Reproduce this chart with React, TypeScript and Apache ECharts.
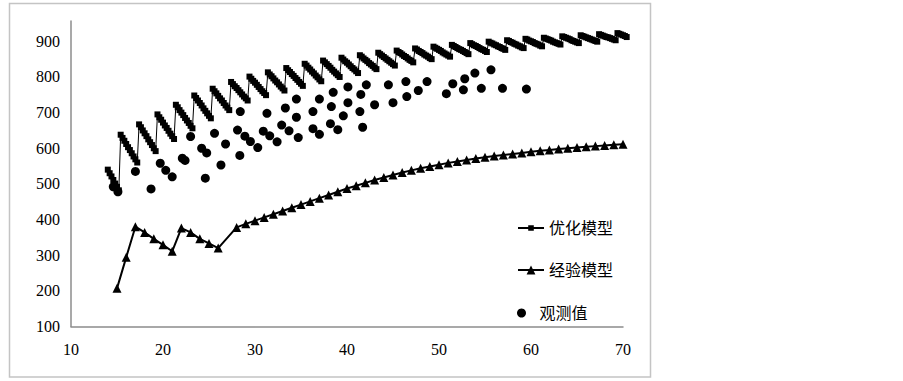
import React, { useEffect, useRef } from "react";
import * as echarts from "echarts";

// ---- data ----
const xTicks = [10, 20, 30, 40, 50, 60, 70];
const yTicks = [100, 200, 300, 400, 500, 600, 700, 800, 900];

const seriesNames = ["优化模型", "经验模型", "观测值"];

// optimized model: sawtooth, each tooth starts at given x, markers every 0.2
const optimizedToothStartX = [
  14.0, 15.4, 17.4, 19.4, 21.4, 23.4, 25.4, 27.4, 29.4, 31.4, 33.4, 35.4, 37.4, 39.4, 41.4,
  43.4, 45.4, 47.4, 49.4, 51.4, 53.4, 55.4, 57.4, 59.4, 61.4, 63.4, 65.4, 67.4, 69.4,
];
const optimizedStepX = 0.2;
const optimizedToothValues = [
  [540, 530, 521, 511, 501, 492, 482],
  [638, 629, 621, 612, 603, 595, 586, 577, 569, 560],
  [667, 659, 650, 642, 634, 625, 617, 609, 600, 592],
  [695, 687, 680, 672, 664, 657, 649, 641, 634, 626],
  [722, 715, 707, 700, 693, 685, 678, 671, 663, 656],
  [748, 741, 734, 727, 720, 712, 705, 698, 691, 684],
  [767, 760, 754, 747, 740, 734, 727, 720, 714, 707],
  [786, 780, 774, 769, 763, 757, 751, 745, 740, 734],
  [801, 795, 789, 784, 778, 772, 766, 760, 755, 749],
  [813, 807, 802, 796, 790, 785, 779, 773, 768, 762],
  [825, 819, 814, 808, 803, 797, 792, 786, 781, 775],
  [837, 832, 826, 821, 815, 810, 804, 799, 793, 788],
  [846, 841, 836, 831, 826, 820, 815, 810, 805, 800],
  [854, 849, 844, 840, 835, 830, 825, 821, 816, 811],
  [861, 857, 852, 848, 844, 839, 835, 831, 826, 822],
  [868, 864, 860, 856, 852, 848, 844, 840, 836, 832],
  [874, 870, 867, 863, 859, 856, 852, 848, 845, 841],
  [880, 877, 873, 870, 867, 863, 860, 857, 853, 850],
  [885, 882, 879, 876, 873, 869, 866, 863, 860, 857],
  [890, 887, 884, 881, 878, 876, 873, 870, 867, 864],
  [895, 892, 889, 887, 884, 881, 878, 876, 873, 870],
  [899, 896, 894, 891, 889, 886, 884, 881, 879, 876],
  [903, 901, 898, 896, 893, 891, 888, 886, 883, 881],
  [907, 905, 902, 900, 898, 895, 893, 891, 888, 886],
  [910, 908, 906, 904, 902, 899, 897, 895, 893, 891],
  [914, 912, 910, 908, 906, 903, 901, 899, 897, 895],
  [917, 915, 913, 911, 909, 907, 905, 903, 901, 899],
  [920, 918, 916, 914, 912, 911, 909, 907, 905, 903],
  [923, 921, 919, 917, 915, 912],
];

// empirical model
const empiricalX = [
  15, 16, 17, 18, 19, 20, 21, 22, 23, 24, 25, 26,
  28, 29, 30, 31, 32, 33, 34, 35, 36, 37, 38, 39, 40, 41, 42, 43, 44, 45, 46, 47, 48, 49,
  50, 51, 52, 53, 54, 55, 56, 57, 58, 59, 60, 61, 62, 63, 64, 65, 66, 67, 68, 69, 70,
];
const empiricalY = [
  207, 294, 380, 364, 346, 329, 311, 376, 364, 346, 333, 320,
  378, 388, 397, 406, 415, 424, 433, 442, 451, 460, 469, 478, 487, 495, 503, 511, 518, 525,
  532, 538, 544, 549, 554, 559, 563, 567, 571, 575, 578, 581, 584, 587, 590, 593, 595, 598,
  600, 602, 604, 606, 608, 610, 611,
];

// observed values
const observedX = [
  14.6, 15.1, 17.0, 18.7, 19.7, 20.3, 21.0, 22.1, 22.4, 23.0,
  24.2, 24.75, 24.6, 25.6, 26.3, 26.8, 28.1, 28.35, 28.4, 28.9,
  29.5, 30.3, 30.9, 31.3, 31.6, 32.4, 32.9, 33.3, 33.7, 34.5,
  34.5, 34.7, 36.3, 36.3, 37.0, 37.0, 38.2, 38.3, 38.5, 39.0,
  39.6, 40.1, 40.1, 41.4, 41.5, 41.7, 42.1, 43.0, 44.5, 45.0,
  46.4, 46.5, 47.75, 48.7, 50.8, 51.5, 52.65, 52.8, 53.9, 54.6,
  55.65, 56.9, 59.5,
];
const observedY = [
  492, 478, 535, 486, 558, 538, 520, 572, 566, 633,
  600, 587, 516, 642, 553, 612, 651, 580, 703, 634,
  619, 602, 648, 698, 635, 618, 665, 713, 649, 738,
  687, 630, 703, 655, 639, 738, 669, 717, 757, 652,
  691, 772, 728, 703, 751, 659, 778, 722, 778, 728,
  787, 745, 762, 787, 753, 781, 764, 795, 811, 768,
  820, 768, 766,
];

const serifFont = "Liberation Serif, DejaVu Serif, serif";
const cjkFont = "Liberation Serif, Noto Sans CJK SC, serif";

export default function App() {
  const ref = useRef<HTMLDivElement>(null);

  useEffect(() => {
    if (!ref.current) return;
    const chart = echarts.init(ref.current, null, { renderer: "svg" });

    const optimizedData: number[][] = [];
    optimizedToothValues.forEach((tooth, i) => {
      tooth.forEach((v, j) => {
        const x = Math.round((optimizedToothStartX[i] + j * optimizedStepX) * 100) / 100;
        optimizedData.push([x, v]);
      });
    });
    const empiricalData = empiricalX.map((x, i) => [x, empiricalY[i]]);
    const observedData = observedX.map((x, i) => [x, observedY[i]]);

    const legendText = { color: "#000", fontSize: 16, fontFamily: cjkFont };

    chart.setOption({
      animation: false,
      backgroundColor: "#fff",
      textStyle: { fontFamily: serifFont, fontSize: 16 },
      grid: { left: 71, right: 280, top: 21, bottom: 54.5, containLabel: false },
      xAxis: {
        type: "value",
        min: xTicks[0],
        max: xTicks[xTicks.length - 1],
        interval: 10,
        axisLine: { show: true, lineStyle: { color: "#8c8c8c", width: 1.5 } },
        axisTick: { show: false },
        splitLine: { show: false },
        axisLabel: {
          color: "#000",
          fontSize: 16,
          fontFamily: serifFont,
          fontStyle: "normal",
          fontWeight: "normal",
          margin: 15,
        },
      },
      yAxis: {
        type: "value",
        min: yTicks[0],
        max: 957,
        interval: 100,
        axisLine: { show: true, lineStyle: { color: "#8c8c8c", width: 1.5 } },
        axisTick: { show: false },
        splitLine: { show: false },
        axisLabel: {
          color: "#000",
          fontSize: 16,
          fontFamily: serifFont,
          fontStyle: "normal",
          fontWeight: "normal",
          margin: 11,
          showMaxLabel: false,
          formatter: (v: number) => (yTicks.includes(v) ? String(v) : ""),
        },
      },
      legend: [
        {
          data: [seriesNames[0]],
          left: 517,
          top: 220,
          padding: 0,
          itemWidth: 26,
          itemHeight: 7,
          textStyle: legendText,
        },
        {
          data: [seriesNames[1]],
          left: 517,
          top: 262,
          padding: 0,
          itemWidth: 26,
          itemHeight: 11,
          textStyle: legendText,
        },
        {
          data: [seriesNames[2]],
          left: 517,
          top: 305,
          padding: 0,
          itemWidth: 26,
          itemHeight: 9,
          textStyle: legendText,
        },
      ],
      graphic: [
        {
          type: "rect",
          shape: { x: 9.5, y: 3.5, width: 641, height: 373.5 },
          style: { fill: "none", stroke: "#c4c4c4", lineWidth: 1.5 },
          silent: true,
          z: -10,
        },
      ],
      series: [
        {
          name: seriesNames[0],
          type: "line",
          data: optimizedData,
          symbol: "rect",
          symbolSize: 6,
          showAllSymbol: true,
          clip: false,
          color: "#000",
          lineStyle: { color: "#000", width: 1 },
          itemStyle: { color: "#000", opacity: 1 },
          z: 2,
        },
        {
          name: seriesNames[1],
          type: "line",
          data: empiricalData,
          symbol: "triangle",
          symbolSize: 9,
          showAllSymbol: true,
          color: "#000",
          lineStyle: { color: "#000", width: 2 },
          itemStyle: { color: "#000", opacity: 1 },
          z: 2,
        },
        {
          name: seriesNames[2],
          type: "scatter",
          data: observedData,
          symbol: "circle",
          symbolSize: 9,
          color: "#000",
          itemStyle: { color: "#000", opacity: 1 },
          z: 3,
        },
      ],
    });

    return () => chart.dispose();
  }, []);

  return (
    <div
      ref={ref}
      style={{ position: "fixed", left: 0, top: 0, width: 903, height: 381, background: "#fff" }}
    />
  );
}
